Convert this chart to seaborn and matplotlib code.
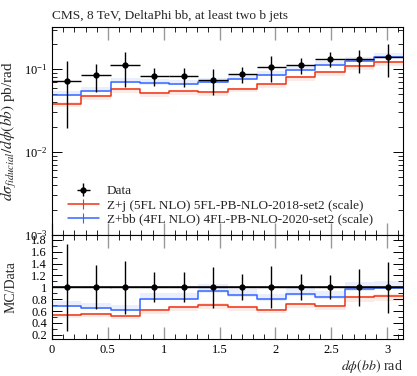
import numpy as np
import pandas as pd
import matplotlib
matplotlib.use("Agg")
import matplotlib.pyplot as plt
from matplotlib.lines import Line2D
from matplotlib.ticker import FixedLocator, MultipleLocator, LogLocator, NullFormatter
import seaborn as sns

# ---------------- data ----------------
x_lo, x_hi = 0.0, np.pi
data_y = [0.0716, 0.0847, 0.112, 0.083, 0.0817, 0.0743, 0.087, 0.107, 0.112, 0.134, 0.131, 0.141]
data_err = [0.0523, 0.0313, 0.0504, 0.0208, 0.0204, 0.026, 0.0191, 0.0375, 0.0246, 0.0268, 0.0406, 0.0606]
zj_y = [0.0385, 0.0470, 0.0571, 0.0512, 0.0541, 0.0525, 0.0581, 0.0667, 0.0804, 0.0918, 0.1096, 0.1211]
zbb_y = [0.0490, 0.0551, 0.0698, 0.0671, 0.0656, 0.0697, 0.0757, 0.0853, 0.0988, 0.1114, 0.1265, 0.1402]
# relative scale-band widths (down, up)
zj_band = (0.10, 0.03)
zbb_band = (0.03, 0.12)

labels = ["Data",
          "Z+j (5FL NLO) 5FL-PB-NLO-2018-set2 (scale)",
          "Z+bb (4FL NLO) 4FL-PB-NLO-2020-set2 (scale)"]
title = "CMS, 8 TeV, DeltaPhi bb, at least two b jets"
xticks = [0, 0.5, 1, 1.5, 2, 2.5, 3]
xticklabels = ["0", "0.5", "1", "1.5", "2", "2.5", "3"]
rticks = [0.2, 0.4, 0.6, 0.8, 1.0, 1.2, 1.4, 1.6, 1.8]
rticklabels = ["0.2", "0.4", "0.6", "0.8", "1", "1.2", "1.4", "1.6", "1.8"]

RED = "#EE3311"
BLUE = "#3366FF"

sns.set_theme(style="ticks")
plt.rcParams["font.family"] = ["Liberation Serif", "DejaVu Serif"]
plt.rcParams["mathtext.fontset"] = "stix"

data_y = np.array(data_y)
data_err = np.array(data_err)
zj_y = np.array(zj_y)
zbb_y = np.array(zbb_y)
nb = len(data_y)
edges = np.linspace(x_lo, x_hi, nb + 1)
centers = 0.5 * (edges[:-1] + edges[1:])
halfw = 0.5 * (edges[1:] - edges[:-1])

fig = plt.figure(figsize=(4.17, 3.76), dpi=100)
ax = fig.add_axes([52 / 417, 1 - 235 / 376, (403 - 52) / 417, (235 - 27) / 376])
rax = fig.add_axes([52 / 417, 1 - 339 / 376, (403 - 52) / 417, (339 - 235) / 376], sharex=ax)


def step_df(vals):
    return pd.DataFrame({"x": edges, "y": np.append(vals, vals[-1])})


def draw_mc(a, vals, band, color):
    lo = vals * (1 - band[0])
    hi = vals * (1 + band[1])
    a.fill_between(edges, np.append(lo, lo[-1]), np.append(hi, hi[-1]),
                   step="post", color=color, alpha=0.1, linewidth=0)
    sns.lineplot(data=step_df(vals), x="x", y="y", ax=a, drawstyle="steps-post",
                 color=color, linewidth=1.1, legend=False)


# main panel
draw_mc(ax, zj_y, zj_band, RED)
draw_mc(ax, zbb_y, zbb_band, BLUE)
eb = ax.errorbar(centers, data_y, xerr=halfw, yerr=data_err, fmt="o", color="black",
                 markersize=3.5, elinewidth=1.0, capsize=0, zorder=5)
ax.set_yscale("log")
ax.set_ylim(1e-3, 0.322)
ax.set_xlim(x_lo, x_hi)
ax.set_title(title, loc="left", fontsize=9.6, pad=6)
ax.set_ylabel(r"$d\sigma_{fiducial}/d\phi(bb)$ pb/rad", fontsize=11)
ax.set_xlabel("")
ax.yaxis.set_major_locator(LogLocator(base=10, numticks=10))
ax.yaxis.set_minor_locator(LogLocator(base=10, subs=np.arange(2, 10), numticks=10))
ax.yaxis.set_minor_formatter(NullFormatter())
plt.setp(ax.get_xticklabels(), visible=False)

h_mc1 = Line2D([], [], color=RED, linewidth=1.1, marker="|", markersize=7, markeredgewidth=0.8)
h_mc2 = Line2D([], [], color=BLUE, linewidth=1.1, marker="|", markersize=7, markeredgewidth=0.8)
ax.legend([eb, h_mc1, h_mc2], labels, loc="lower left", bbox_to_anchor=(0.02, 0.0),
          frameon=False, fontsize=9.5, handlelength=2.3, handletextpad=0.6,
          labelspacing=0.15, borderaxespad=0.3)

# ratio panel
draw_mc(rax, zj_y / data_y, zj_band, RED)
draw_mc(rax, zbb_y / data_y, zbb_band, BLUE)
rax.axhline(1.0, color="black", linewidth=1.1, zorder=4)
rax.errorbar(centers, np.ones(nb), xerr=halfw, yerr=data_err / data_y, fmt="o",
             color="black", markersize=3.5, elinewidth=1.0, capsize=0, zorder=5)
rax.set_ylim(0.13, 1.88)
rax.set_xlim(x_lo, x_hi)
rax.set_ylabel("MC/Data", fontsize=10)
rax.set_xlabel(r"$d\phi(bb)$ rad", fontsize=10, loc="right", labelpad=1)
rax.yaxis.set_major_locator(FixedLocator(rticks))
rax.set_yticklabels(rticklabels)
rax.yaxis.set_minor_locator(MultipleLocator(0.1))
rax.xaxis.set_major_locator(FixedLocator(xticks))
rax.set_xticklabels(xticklabels)
rax.xaxis.set_minor_locator(MultipleLocator(0.1))

for a in (ax, rax):
    for s in a.spines.values():
        s.set_linewidth(0.8)
        s.set_color("black")
    a.tick_params(which="both", direction="in", top=True, right=True,
                  labelsize=9, colors="black")
    a.tick_params(which="major", length=7, width=0.7)
    a.tick_params(which="minor", length=3.5, width=0.6)
ax.tick_params(axis="x", which="major", length=9, color="#999999", width=1.0)
rax.tick_params(axis="x", which="major", length=9, color="#999999", width=1.0)
ax.yaxis.set_label_coords(-0.093, 0.5)
rax.yaxis.set_label_coords(-0.097, 0.5)

fig.savefig("out.png", dpi=100)
